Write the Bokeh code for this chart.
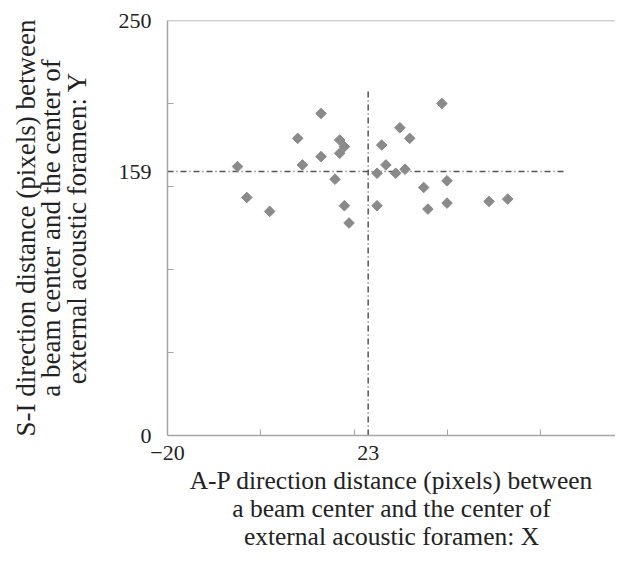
import math
from bokeh.plotting import figure
from bokeh.models import Range1d, FixedTicker, Span, ColumnDataSource
from bokeh.embed import file_html
from bokeh.resources import INLINE

# A-P (X) and S-I (Y) distances in pixels
x_vals = [-5.0, -3.0, 1.9, 7.9, 8.9, 12.9, 12.9, 15.9, 16.9, 16.9, 17.9, 17.9, 18.9,
          24.9, 24.9, 25.9, 26.8, 28.9, 29.8, 30.9, 31.9, 34.9, 35.8, 38.8, 39.9, 39.9,
          48.9, 52.9]
y_vals = [162, 143.4, 135, 179, 163, 194, 168, 154.4, 178, 170, 174, 138.4, 128,
          158, 138.4, 175, 163, 158, 185.4, 160.4, 179, 149.4, 136.4, 200, 153.4, 140,
          141, 142.4]

mean_x = 23
mean_y = 159
v_line_top = 208
h_line_end = 65

x_major_ticks = [-20, 23]
x_minor_ticks = [0, 20, 40, 60]
y_major_ticks = [0, 159, 250]
y_minor_ticks = [50, 100, 150, 200]

x_title = ("A-P direction distance (pixels) between\n"
           "a beam center and the center of\n"
           "external acoustic foramen: X")
y_title = ("S-I direction distance (pixels) between\n"
           "a beam center and the center of\n"
           "external acoustic foramen: Y")

FONT = "Liberation Serif"
TXT = "#222222"
AX = "#a6a6a6"

p = figure(width=615, height=553, output_backend="svg", toolbar_location=None,
           x_range=Range1d(-20, 76), y_range=Range1d(0, 250),
           min_border_left=167, min_border_top=20, min_border_bottom=116,
           min_border_right=0)
p.outline_line_color = None
p.grid.visible = False
p.background_fill_color = "white"
p.border_fill_color = "white"

p.xaxis.ticker = FixedTicker(ticks=x_major_ticks, minor_ticks=x_minor_ticks)
p.yaxis.ticker = FixedTicker(ticks=y_major_ticks, minor_ticks=y_minor_ticks)

for ax in (p.xaxis, p.yaxis):
    ax.axis_line_color = AX
    ax.axis_line_width = 1.5
    ax.major_tick_line_color = None
    ax.minor_tick_line_color = AX
    ax.minor_tick_in = 6
    ax.minor_tick_out = 0
    ax.major_label_text_font = FONT
    ax.major_label_text_font_size = "22px"
    ax.major_label_text_color = TXT
    ax.axis_label_text_font = FONT
    ax.axis_label_text_font_style = "normal"
    ax.axis_label_text_color = TXT

p.xaxis.axis_label_text_font_size = "25.5px"
p.xaxis.axis_label_text_line_height = 0.97
p.yaxis.axis_label_text_font_size = "27px"
p.yaxis.axis_label_text_line_height = 0.84

p.xaxis.major_label_standoff = 4
p.yaxis.major_label_standoff = 10
p.xaxis.axis_label = x_title
p.yaxis.axis_label = y_title
p.xaxis.axis_label_standoff = 3
p.yaxis.axis_label_standoff = 24

# top border line
p.add_layout(Span(location=250, dimension="width", line_color=AX, line_width=1.5))

# mean lines
lines = ColumnDataSource(dict(x0=[mean_x, -20], y0=[0, mean_y],
                              x1=[mean_x, h_line_end], y1=[v_line_top, mean_y]))
p.segment(x0="x0", y0="y0", x1="x1", y1="y1", source=lines,
          line_color="#555555", line_width=1.5, line_dash="6 3 1 3")

p.scatter(x_vals, y_vals, marker="square", angle=math.pi / 4, size=7.5,
          fill_color="#8a8a8a", line_color="#8a8a8a")

open("out.html", "w").write(file_html(p, INLINE))
